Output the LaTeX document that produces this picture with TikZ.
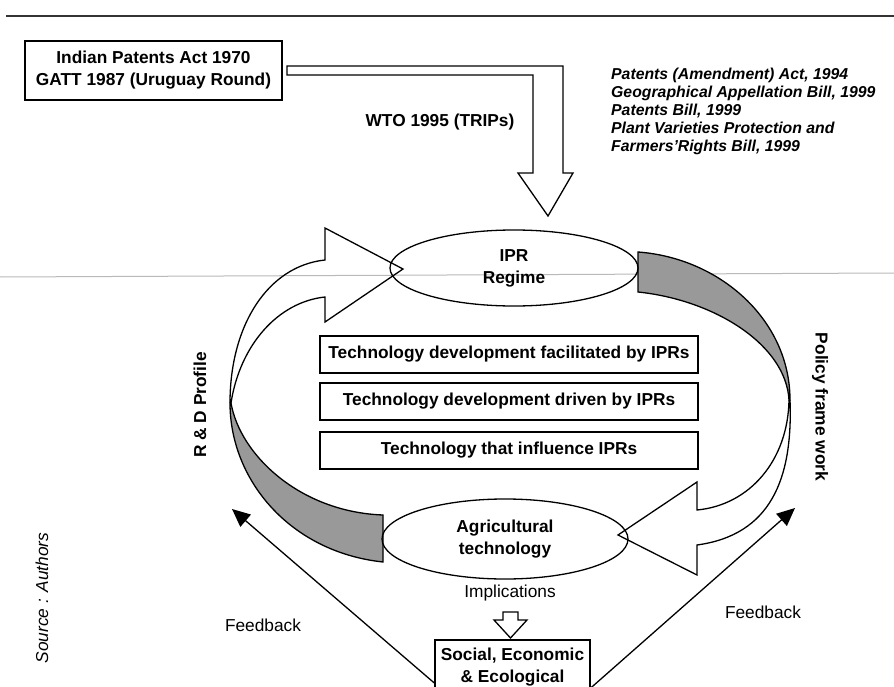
\documentclass[tikz,border=0pt]{standalone}
\usepackage{fontspec}
\setmainfont{Liberation Sans}
\usetikzlibrary{shapes.geometric,arrows.meta}
\begin{document}
\begin{tikzpicture}[x=1pt,y=-1pt,line join=miter,
  txt/.style={font=\fontsize{17.3}{22}\selectfont, inner sep=0pt, align=center},
  btxt/.style={font=\bfseries\fontsize{17.3}{22}\selectfont, inner sep=0pt, align=center},
  ol/.style={draw=black, line width=1.3pt},
  rbox/.style={btxt, draw=black, line width=1.4pt},
  oval/.style={ellipse, btxt, draw=black, line width=1.3pt},
  band/.style={ol, fill=black!40},
  fb/.style={draw=black, line width=1.3pt, -{Triangle[length=18pt,width=16pt]}}]
\useasboundingbox (0,0) rectangle (894,687);
\clip (0,0) rectangle (894,687);
\fill[white] (0,0) rectangle (894,687);

% top rule and scan line
\draw[line width=2.5pt, black!80] (6,16) -- (894,16);
\draw[gray!55, line width=1pt] (0,277) -- (894,273);

% source box and texts
\node[rbox, minimum width=257pt, minimum height=59pt] (src) at (153.5,70.5)
  {Indian Patents Act 1970\\GATT 1987 (Uruguay Round)};
\node[btxt] (wto) at (440,122) {WTO 1995 (TRIPs)};
\node[anchor=west, align=left, inner sep=0pt,
  font=\bfseries\itshape\fontsize{15.8}{18}\selectfont] (acts) at (611,111)
  {Patents (Amendment) Act, 1994\\Geographical Appellation Bill, 1999\\Patents Bill, 1999\\Plant Varieties Protection and\\Farmers'Rights Bill, 1999};

% bent arrow
\draw[ol] (287,66) -- (563,66) -- (563,173) -- (573,173) -- (548,216) -- (518,173)
  -- (533,173) -- (533,75) -- (287,75) -- cycle;

% gray bands
\draw[band] (230,403) .. controls (230,480) and (290,552) .. (383,562) -- (383,515)
  .. controls (300,512) and (240,455) .. (231,403) -- cycle;
\draw[band] (638,252) .. controls (720,258) and (790,320) .. (790,400) -- (789,400)
  .. controls (786,345) and (715,300) .. (638,292) -- cycle;

% white arrow parts
\draw[ol] (230,403) .. controls (230,325) and (268,266) .. (325,260) -- (325,228)
  -- (403,269) -- (325,322) -- (325,297) .. controls (278,302) and (240,345) .. (231,403);
\draw[ol] (790,400) .. controls (793,480) and (770,535) .. (697,545) -- (697,575)
  -- (618,535) -- (697,482) -- (697,510) .. controls (750,505) and (788,460) .. (789,400);

% ellipses
\node[oval, minimum width=248pt, minimum height=76pt] (ipr) at (514,268) {IPR\\Regime};
\node[oval, minimum width=246pt, minimum height=80pt] (agri) at (505,539) {Agricultural\\technology};

% technology boxes
\node[rbox, minimum width=378pt, minimum height=37pt] (t1) at (509,354.5)
  {Technology development facilitated by IPRs};
\node[rbox, minimum width=378pt, minimum height=37pt] (t2) at (509,401.5)
  {Technology development driven by IPRs};
\node[rbox, minimum width=378pt, minimum height=37pt] (t3) at (509,450.5)
  {Technology that influence IPRs};

% side labels
\node[btxt, rotate=90] (rd) at (200,405) {R \& D Profile};
\node[btxt, rotate=-90] (pf) at (820,407) {Policy frame work};
\node[txt, rotate=90, font=\itshape\fontsize{17.3}{22}\selectfont] (srcA) at (42,598) {Source : Authors};

% implications
\node[txt] (impl) at (510,593) {Implications};
\draw[ol] (503,612) -- (518,612) -- (518,620) -- (527,620) -- (510.5,638) -- (494,620)
  -- (503,620) -- cycle;
\node[rbox, minimum width=155pt, minimum height=54pt] (soc) at (512.5,667)
  {Social, Economic\\\& Ecological};

% feedback
\coordinate (fbL) at (232,509);
\coordinate (fbR) at (795,508);
\draw[fb] ([yshift=-16pt]soc.west) -- (fbL);
\draw[fb] ([yshift=-21pt]soc.east) -- (fbR);
\node[txt] (fl) at (263,625) {Feedback};
\node[txt] (fr) at (763,612) {Feedback};
\end{tikzpicture}
\end{document}
